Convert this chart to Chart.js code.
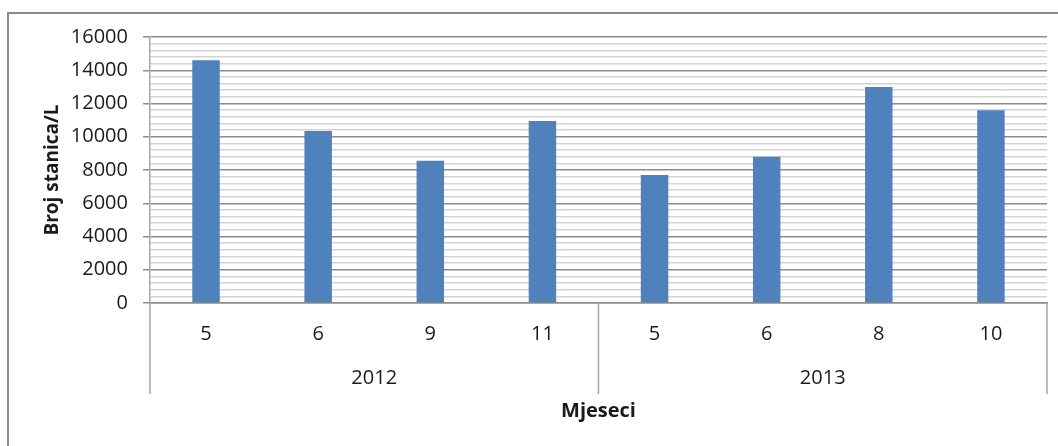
<!DOCTYPE html>
<html>
<head>
<meta charset="utf-8">
<script src="https://cdn.jsdelivr.net/npm/chart.js@4"></script>
<style>
  html, body { margin: 0; padding: 0; background: #fff; overflow: hidden; }
  #frame { position: absolute; left: 7px; top: 12px; width: 1200px; height: 600px; border: 2px solid #8c8c8c; box-sizing: border-box; }
  #wrap { position: absolute; left: 0; top: 0; width: 1058px; height: 446px; }
</style>
</head>
<body>
<div id="frame"></div>
<div id="wrap"><canvas id="chartCanvas" width="1058" height="446"></canvas></div>
<script>
// mjeseci (kategorije), godine i broj stanica
const months = ["5", "6", "9", "11", "5", "6", "8", "10"];
const years = ["2012", "2013"];
const counts = [14600, 10350, 8550, 10950, 7700, 8800, 13000, 11600];

const FONT = "'Open Sans', sans-serif";
const majorGrid = "#8c8c8c";
const minorGrid = "#d3d3d3";

// okomite crte koje dijele godine ispod osi
const yearDividers = {
    id: "yearDividers",
    afterDraw(chart) {
        const x2 = chart.scales.x2;
        const ctx = chart.ctx;
        const mid = (x2.getPixelForTick(0) + x2.getPixelForTick(1)) / 2;
        ctx.save();
        ctx.strokeStyle = "#a6a6a6";
        ctx.lineWidth = 1.5;
        for (let px of [x2.left, mid, x2.right]) {
            ctx.beginPath();
            ctx.moveTo(px, chart.chartArea.bottom);
            ctx.lineTo(px, x2.bottom + 3);
            ctx.stroke();
        }
        ctx.restore();
    }
};

new Chart(document.getElementById("chartCanvas"), {
    type: "bar",
    data: {
        labels: months,
        datasets: [{
            data: counts,
            backgroundColor: "#4f81bd",
            barPercentage: 0.245,
            categoryPercentage: 1
        }]
    },
    plugins: [yearDividers],
    options: {
        responsive: false,
        animation: false,
        layout: { padding: { left: 13, right: 11, top: 37, bottom: 19 } },
        plugins: { legend: { display: false }, tooltip: { enabled: false } },
        scales: {
            x: {
                grid: { display: false, drawTicks: false },
                border: { display: true, color: majorGrid, width: 1.5 },
                ticks: { padding: 19, color: "#1a1a1a", font: { family: FONT, size: 20 } }
            },
            x2: {
                type: "category",
                labels: years,
                position: "bottom",
                offset: true,
                grid: { display: false, drawTicks: false },
                border: { display: false },
                ticks: { padding: 1, color: "#1a1a1a", font: { family: FONT, size: 20 } }
            },
            x3: {
                type: "category",
                labels: [""],
                position: "bottom",
                grid: { display: false, drawTicks: false },
                border: { display: false },
                ticks: { display: false },
                title: {
                    display: true,
                    text: "Mjeseci",
                    color: "#1a1a1a",
                    padding: { top: 8, bottom: 4 },
                    font: { family: FONT, size: 20, weight: "bold" }
                }
            },
            y: {
                min: 0,
                max: 16000,
                ticks: {
                    stepSize: 400,
                    autoSkip: false,
                    padding: 15,
                    color: "#1a1a1a",
                    font: { family: FONT, size: 20 },
                    callback: v => (v % 2000 === 0 ? v : "")
                },
                grid: {
                    color: c => (c.tick && c.tick.value % 2000 === 0 ? majorGrid : minorGrid),
                    lineWidth: 1.5,
                    tickLength: 7,
                    tickColor: c => (c.tick && c.tick.value % 2000 === 0 ? majorGrid : "rgba(0,0,0,0)")
                },
                border: { display: true, color: "#a6a6a6", width: 1.5 },
                title: {
                    display: true,
                    text: "Broj stanica/L",
                    color: "#1a1a1a",
                    padding: { top: 28, bottom: -8 },
                    font: { family: FONT, size: 19, weight: "bold" }
                }
            }
        }
    }
});
</script>
</body>
</html>
